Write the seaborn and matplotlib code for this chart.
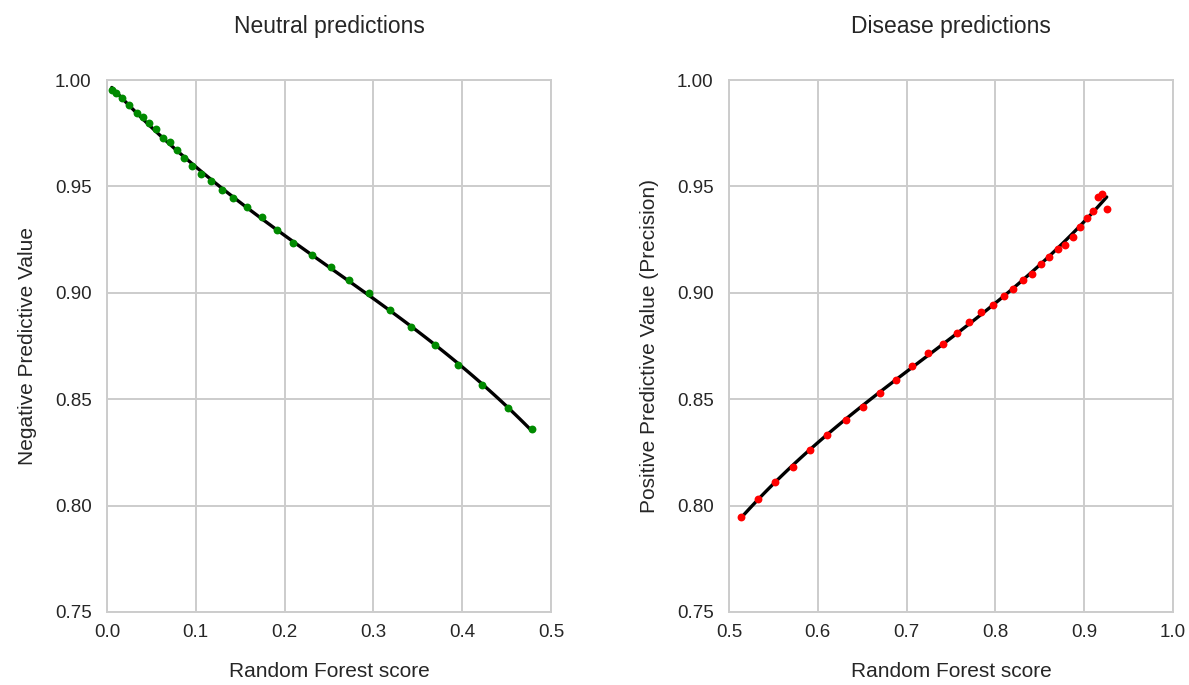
import matplotlib
matplotlib.use("Agg")
import matplotlib.pyplot as plt
import numpy as np
import seaborn as sns
from matplotlib.ticker import FormatStrFormatter

# Neutral predictions: random forest score vs negative predictive value
neutral_score = [0.0054, 0.0102, 0.0173, 0.0252, 0.0336, 0.0403, 0.0477, 0.0556,
                 0.0632, 0.0707, 0.0786, 0.0870, 0.0962, 0.1056, 0.1175, 0.1291,
                 0.1423, 0.1574, 0.1743, 0.1912, 0.2099, 0.2310, 0.2518, 0.2730,
                 0.2948, 0.3185, 0.3428, 0.3691, 0.3957, 0.4227, 0.4513, 0.4790]
neutral_npv = [0.9953, 0.9938, 0.9916, 0.9883, 0.9844, 0.9825, 0.9797, 0.9769,
               0.9728, 0.9711, 0.9669, 0.9632, 0.9594, 0.9559, 0.9524, 0.9483,
               0.9445, 0.9403, 0.9355, 0.9296, 0.9236, 0.9179, 0.9123, 0.9060,
               0.8998, 0.8918, 0.8839, 0.8753, 0.8660, 0.8566, 0.8457, 0.8358]

# Disease predictions: random forest score vs positive predictive value
disease_score = [0.5132, 0.5323, 0.5518, 0.5717, 0.5912, 0.6107, 0.6314, 0.6509,
                 0.6700, 0.6881, 0.7066, 0.7238, 0.7407, 0.7564, 0.7699, 0.7838,
                 0.7970, 0.8097, 0.8199, 0.8314, 0.8416, 0.8518, 0.8608, 0.8702,
                 0.8784, 0.8871, 0.8953, 0.9029, 0.9096, 0.9156, 0.9204, 0.9254]
disease_ppv = [0.7946, 0.8029, 0.8110, 0.8180, 0.8263, 0.8332, 0.8403, 0.8464,
               0.8529, 0.8591, 0.8657, 0.8715, 0.8761, 0.8813, 0.8861, 0.8910,
               0.8944, 0.8983, 0.9016, 0.9058, 0.9088, 0.9136, 0.9167, 0.9208,
               0.9224, 0.9264, 0.9308, 0.9352, 0.9385, 0.9452, 0.9466, 0.9394]

sns.set_style("whitegrid", {"grid.color": ".8", "axes.edgecolor": ".8"})
plt.rcParams["font.family"] = ["Liberation Sans", "DejaVu Sans"]
plt.rcParams["grid.linewidth"] = 1.4
plt.rcParams["axes.linewidth"] = 1.4

fig, axes = plt.subplots(1, 2, figsize=(11.89, 6.85), dpi=100)
fig.subplots_adjust(left=0.090, right=0.9865, top=0.8832, bottom=0.1066, wspace=0.401)

panels = [
    (axes[0], neutral_score, neutral_npv, "#008a00", "Neutral predictions",
     "Negative Predictive Value", (0.0, 0.5), np.arange(0, 0.51, 0.1)),
    (axes[1], disease_score, disease_ppv, "#ff0000", "Disease predictions",
     "Positive Predictive Value (Precision)", (0.5, 1.0), np.arange(0.5, 1.01, 0.1)),
]

for ax, x, y, color, title, ylabel, xlim, xticks in panels:
    sns.regplot(x=x, y=y, order=3, ci=None, ax=ax,
                scatter_kws={"color": color, "s": 32, "alpha": 1,
                             "linewidths": 0, "zorder": 3},
                line_kws={"color": "black", "linewidth": 2.4, "zorder": 2})
    ax.set_xlim(*xlim)
    ax.set_ylim(0.75, 1.0)
    ax.set_xticks(xticks)
    ax.set_yticks(np.arange(0.75, 1.001, 0.05))
    ax.xaxis.set_major_formatter(FormatStrFormatter("%.1f"))
    ax.yaxis.set_major_formatter(FormatStrFormatter("%.2f"))
    ax.tick_params(axis="x", labelsize=13.5, pad=9, colors="#262626", length=0)
    ax.tick_params(axis="y", labelsize=13.5, pad=11, colors="#262626", length=0)
    ax.set_title(title, fontsize=16.5, pad=34, color="#262626")
    ax.set_xlabel("Random Forest score", fontsize=15, labelpad=15, color="#262626")
    ax.set_ylabel(ylabel, fontsize=15, labelpad=13, color="#262626")

fig.savefig("out.png", dpi=100)
